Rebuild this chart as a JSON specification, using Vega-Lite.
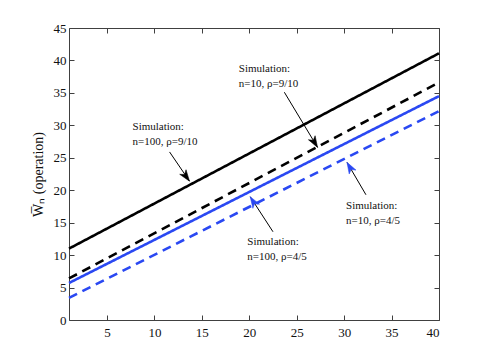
{
  "$schema": "https://vega.github.io/schema/vega-lite/v6.json",
  "width": 370,
  "height": 292,
  "autosize": "none",
  "padding": {"left": 69, "top": 28, "right": 46, "bottom": 40},
  "background": "white",
  "config": {
    "view": {"stroke": null},
    "font": "Liberation Serif",
    "text": {"font": "Liberation Serif"},
    "axis": {
      "grid": false,
      "domainColor": "#404040",
      "tickColor": "#404040",
      "tickSize": -5,
      "labelFont": "Liberation Serif",
      "labelFontSize": 13,
      "labelColor": "#111",
      "titleFont": "Liberation Serif",
      "titleFontWeight": "normal",
      "titleFontSize": 14,
      "titleColor": "#111"
    }
  },
  "datasets": {
    "lines": [
      {"B": 1, "W": 11.0, "series": "n=100, rho=9/10"},
      {"B": 40, "W": 41.1, "series": "n=100, rho=9/10"},
      {"B": 1, "W": 6.4, "series": "n=10, rho=9/10"},
      {"B": 40, "W": 36.6, "series": "n=10, rho=9/10"},
      {"B": 1, "W": 5.7, "series": "n=100, rho=4/5"},
      {"B": 40, "W": 34.5, "series": "n=100, rho=4/5"},
      {"B": 1, "W": 3.4, "series": "n=10, rho=4/5"},
      {"B": 40, "W": 32.2, "series": "n=10, rho=4/5"}
    ],
    "notes": [
      {"id": "a", "label": "Simulation:\nn=100, ρ=9/10", "tx": 7.7, "ty": 30.7, "x0": 11.6, "y0": 25.9, "x1": 13.7, "y1": 21.4, "group": "black"},
      {"id": "b", "label": "Simulation:\nn=10, ρ=9/10", "tx": 18.9, "ty": 39.6, "x0": 23.7, "y0": 35.1, "x1": 27.2, "y1": 26.6, "group": "black"},
      {"id": "c", "label": "Simulation:\nn=10, ρ=4/5", "tx": 30.2, "ty": 18.5, "x0": 32.3, "y0": 19.3, "x1": 30.3, "y1": 24.3, "group": "blue"},
      {"id": "d", "label": "Simulation:\nn=100, ρ=4/5", "tx": 19.8, "ty": 12.9, "x0": 22.5, "y0": 13.6, "x1": 20.1, "y1": 19.0, "group": "blue"}
    ]
  },
  "resolve": {"axis": {"x": "independent", "y": "independent"}},
  "layer": [
    {
      "data": {"name": "lines"},
      "mark": {"type": "line", "strokeWidth": 2.6},
      "encoding": {
        "x": {"field": "B", "type": "quantitative",
              "scale": {"domain": [1, 40], "nice": false, "zero": false},
              "axis": {"orient": "bottom", "values": [5, 10, 15, 20, 25, 30, 35, 40], "labelPadding": 11, "title": null, "labelFont": "Liberation Serif"}},
        "y": {"field": "W", "type": "quantitative",
              "scale": {"domain": [0, 45], "nice": false},
              "axis": {"orient": "left", "values": [0, 5, 10, 15, 20, 25, 30, 35, 40, 45], "labelPadding": 8, "title": "W̅ₙ  (operation)", "titlePadding": 8, "labelFont": "Liberation Serif"}},
        "color": {"field": "series", "type": "nominal", "legend": null,
                  "scale": {"domain": ["n=100, rho=9/10", "n=10, rho=9/10", "n=100, rho=4/5", "n=10, rho=4/5"],
                            "range": ["#000000", "#000000", "#2a48f2", "#2a48f2"]}},
        "strokeDash": {"field": "series", "type": "nominal", "legend": null,
                  "scale": {"domain": ["n=100, rho=9/10", "n=10, rho=9/10", "n=100, rho=4/5", "n=10, rho=4/5"],
                            "range": [[1, 0], [9, 6], [1, 0], [9, 6]]}}
      }
    },
    {
      "data": {"name": "lines"},
      "mark": {"type": "line", "opacity": 0},
      "encoding": {
        "x": {"field": "B", "type": "quantitative",
              "axis": {"orient": "top", "values": [5, 10, 15, 20, 25, 30, 35, 40], "labels": false, "title": null}},
        "y": {"field": "W", "type": "quantitative",
              "axis": {"orient": "right", "values": [0, 5, 10, 15, 20, 25, 30, 35, 40, 45], "labels": false, "title": null}}
      }
    },
    {
      "data": {"name": "notes"},
      "mark": {"type": "rule", "strokeWidth": 1},
      "encoding": {
        "x": {"field": "x0", "type": "quantitative", "axis": null},
        "y": {"field": "y0", "type": "quantitative", "axis": null},
        "x2": {"field": "x1"},
        "y2": {"field": "y1"},
        "color": {"field": "group", "type": "nominal", "legend": null,
                  "scale": {"domain": ["black", "blue"], "range": ["#000000", "#2a48f2"]}}
      }
    },
    {
      "data": {"name": "notes"},
      "transform": [{"filter": "datum.id == 'a'"}],
      "mark": {"type": "point", "shape": "M0,0L-0.45,1.3L0,0.95L0.45,1.3Z", "filled": true, "opacity": 1, "size": 300, "angle": 144, "fill": "#000000", "stroke": "#000000", "strokeWidth": 0.5},
      "encoding": {
        "x": {"field": "x1", "type": "quantitative", "axis": null},
        "y": {"field": "y1", "type": "quantitative", "axis": null}
      }
    },
    {
      "data": {"name": "notes"},
      "transform": [{"filter": "datum.id == 'b'"}],
      "mark": {"type": "point", "shape": "M0,0L-0.45,1.3L0,0.95L0.45,1.3Z", "filled": true, "opacity": 1, "size": 300, "angle": 149, "fill": "#000000", "stroke": "#000000", "strokeWidth": 0.5},
      "encoding": {
        "x": {"field": "x1", "type": "quantitative", "axis": null},
        "y": {"field": "y1", "type": "quantitative", "axis": null}
      }
    },
    {
      "data": {"name": "notes"},
      "transform": [{"filter": "datum.id == 'c'"}],
      "mark": {"type": "point", "shape": "M0,0L-0.45,1.3L0,0.95L0.45,1.3Z", "filled": true, "opacity": 1, "size": 300, "angle": 330, "fill": "#2a48f2", "stroke": "#2a48f2", "strokeWidth": 0.5},
      "encoding": {
        "x": {"field": "x1", "type": "quantitative", "axis": null},
        "y": {"field": "y1", "type": "quantitative", "axis": null}
      }
    },
    {
      "data": {"name": "notes"},
      "transform": [{"filter": "datum.id == 'd'"}],
      "mark": {"type": "point", "shape": "M0,0L-0.45,1.3L0,0.95L0.45,1.3Z", "filled": true, "opacity": 1, "size": 300, "angle": 328, "fill": "#2a48f2", "stroke": "#2a48f2", "strokeWidth": 0.5},
      "encoding": {
        "x": {"field": "x1", "type": "quantitative", "axis": null},
        "y": {"field": "y1", "type": "quantitative", "axis": null}
      }
    },
    {
      "data": {"name": "notes"},
      "mark": {"type": "text", "align": "left", "baseline": "top", "fontSize": 11, "lineHeight": 15, "lineBreak": "\n", "font": "Liberation Serif", "color": "#111"},
      "encoding": {
        "x": {"field": "tx", "type": "quantitative", "axis": null},
        "y": {"field": "ty", "type": "quantitative", "axis": null},
        "text": {"field": "label"}
      }
    },
    {
      "mark": {"type": "text", "align": "left", "baseline": "alphabetic", "fontSize": 14, "fontStyle": "italic", "font": "Liberation Serif", "dy": 32, "color": "#111"},
      "encoding": {
        "x": {"datum": 17.2, "type": "quantitative", "axis": null},
        "y": {"datum": 0, "type": "quantitative", "axis": null},
        "text": {"value": "B"}
      }
    },
    {
      "mark": {"type": "text", "align": "left", "baseline": "alphabetic", "fontSize": 9, "fontStyle": "italic", "font": "Liberation Serif", "dy": 35, "color": "#111"},
      "encoding": {
        "x": {"datum": 18.2, "type": "quantitative", "axis": null},
        "y": {"datum": 0, "type": "quantitative", "axis": null},
        "text": {"value": "AF"}
      }
    },
    {
      "mark": {"type": "text", "align": "left", "baseline": "alphabetic", "fontSize": 14, "font": "Liberation Serif", "dy": 32, "color": "#111"},
      "encoding": {
        "x": {"datum": 20.4, "type": "quantitative", "axis": null},
        "y": {"datum": 0, "type": "quantitative", "axis": null},
        "text": {"value": "(slot)"}
      }
    }
  ]
}
